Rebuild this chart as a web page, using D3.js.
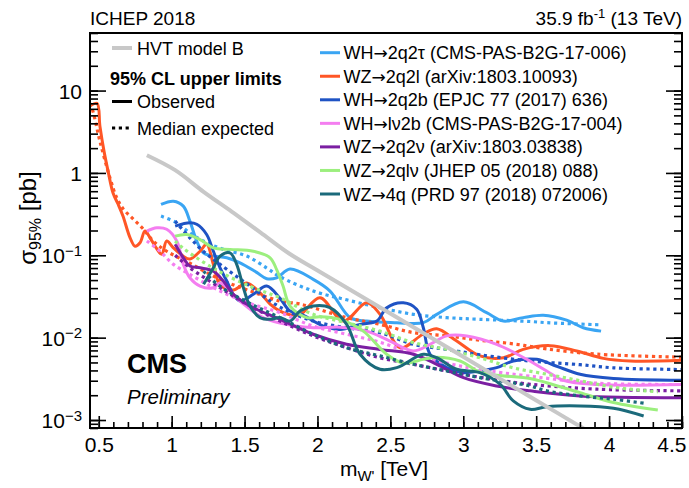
<!DOCTYPE html>
<html>
<head>
<meta charset="utf-8">
<script src="https://cdn.jsdelivr.net/npm/d3@7"></script>
<style>
  body { margin: 0; background: #fff; }
  svg { display: block; }
  text { font-family: "Liberation Sans", Arial, Helvetica, sans-serif; fill: #000; }
</style>
</head>
<body>
<svg id="chart" width="689" height="488"></svg>
<script>
// ---- data: [W' mass (TeV), 95% CL upper limit (pb)] ----
const massTicks = [0.5, 1, 1.5, 2, 2.5, 3, 3.5, 4, 4.5];
const sigmaMajor = [1e-3, 1e-2, 1e-1, 1, 10];

const hvtModelB = [[0.83,1.64],[1.024,1.08],[1.219,0.59],[1.414,0.337],[1.608,0.19],[1.803,0.106],[1.998,0.066],[2.485,0.0204],[2.971,0.0063],[3.458,0.00192],[3.945,0.00059]];

const wh2q2tauObs = [[0.927,0.415],[1.012,0.454],[1.08,0.395],[1.125,0.26],[1.172,0.149],[1.217,0.107],[1.286,0.0978],[1.378,0.0933],[1.469,0.0811],[1.583,0.062],[1.652,0.052],[1.72,0.0533],[1.812,0.068],[1.971,0.051],[2.086,0.0368],[2.224,0.0175],[2.338,0.0159],[2.544,0.0152],[2.726,0.0152],[2.818,0.0192],[3.001,0.0272],[3.16,0.0201],[3.275,0.0159],[3.411,0.0175],[3.549,0.0187],[3.709,0.0163],[3.823,0.0132],[3.945,0.012]];
const wh2q2tauExp = [[0.927,0.299],[1.035,0.248],[1.125,0.187],[1.217,0.149],[1.354,0.118],[1.515,0.0978],[1.652,0.07],[1.743,0.055],[1.971,0.0368],[2.2,0.0288],[2.429,0.0231],[2.658,0.0192],[2.887,0.0175],[3.114,0.0167],[3.458,0.0157],[3.572,0.0152],[3.945,0.0143]];

const wz2q2lObs = [[0.44,6.5],[0.488,7.0],[0.508,3.7],[0.536,1.84],[0.564,1.05],[0.598,0.57],[0.632,0.42],[0.666,0.30],[0.715,0.163],[0.749,0.129],[0.783,0.142],[0.817,0.197],[0.852,0.163],[0.898,0.12],[0.932,0.103],[0.966,0.149],[1.012,0.123],[1.078,0.098],[1.125,0.09],[1.195,0.112],[1.24,0.136],[1.286,0.078],[1.332,0.044],[1.423,0.038],[1.515,0.046],[1.606,0.035],[1.675,0.0256],[1.743,0.021],[1.812,0.019],[1.88,0.019],[2.017,0.0305],[2.177,0.0159],[2.338,0.0265],[2.429,0.0192],[2.566,0.00755],[2.723,0.011],[2.818,0.0128],[2.955,0.0091],[3.114,0.006],[3.275,0.0057],[3.411,0.0072],[3.595,0.008],[3.778,0.0069],[3.961,0.0056],[4.144,0.0052],[4.5,0.0053]];
const wz2q2lExp = [[0.44,7.0],[0.46,5.6],[0.508,2.43],[0.577,0.87],[0.623,0.50],[0.669,0.363],[0.737,0.275],[0.806,0.208],[0.874,0.149],[0.966,0.112],[1.125,0.08],[1.332,0.051],[1.537,0.037],[1.743,0.0278],[1.88,0.0256],[2.2,0.0175],[2.429,0.0145],[2.658,0.0115],[2.887,0.0105],[3.114,0.0093],[3.343,0.0084],[3.572,0.0073],[3.916,0.0063],[4.5,0.0058]];

const wh2q2bObs = [[1.024,0.226],[1.125,0.248],[1.172,0.238],[1.24,0.179],[1.286,0.112],[1.332,0.0705],[1.378,0.0487],[1.423,0.0336],[1.469,0.0278],[1.56,0.0336],[1.652,0.0423],[1.743,0.03],[1.812,0.021],[1.88,0.0195],[2.041,0.0138],[2.155,0.0126],[2.292,0.0145],[2.407,0.0159],[2.475,0.0231],[2.589,0.0265],[2.68,0.0221],[2.726,0.0132],[2.772,0.00628],[2.887,0.00432],[3.001,0.00376],[3.114,0.00394],[3.229,0.00432],[3.343,0.00521],[3.504,0.00546],[3.641,0.0045],[3.801,0.00359],[4.03,0.0032],[4.5,0.00304]];
const wh2q2bExp = [[1.024,0.26],[1.125,0.163],[1.217,0.112],[1.332,0.0776],[1.537,0.0423],[1.743,0.0235],[1.971,0.0159],[2.2,0.0132],[2.429,0.0115],[2.658,0.0083],[2.887,0.0072],[3.114,0.0062],[3.458,0.0052],[3.801,0.0047],[4.03,0.0043],[4.5,0.0041]];

const whlv2bObs = [[0.83,0.197],[0.898,0.216],[0.966,0.207],[1.035,0.149],[1.08,0.0776],[1.125,0.0533],[1.195,0.0423],[1.286,0.0404],[1.332,0.046],[1.469,0.0278],[1.606,0.0183],[1.743,0.015],[1.971,0.0132],[2.155,0.0134],[2.338,0.012],[2.497,0.0091],[2.658,0.0069],[2.772,0.0083],[2.887,0.0105],[3.024,0.0105],[3.229,0.0083],[3.435,0.00546],[3.572,0.00394],[3.686,0.00304],[3.916,0.0027],[4.5,0.0027]];
const whlv2bExp = [[0.83,0.149],[0.92,0.112],[1.012,0.0776],[1.125,0.0586],[1.332,0.0368],[1.537,0.026],[1.743,0.0201],[1.971,0.0138],[2.2,0.011],[2.429,0.0088],[2.658,0.0063],[2.887,0.0049],[3.114,0.0041],[3.458,0.0034],[3.916,0.0028],[4.5,0.0027]];

const wz2q2nuObs = [[1.024,0.136],[1.08,0.0933],[1.125,0.074],[1.195,0.0705],[1.286,0.0643],[1.354,0.0487],[1.423,0.0336],[1.537,0.0242],[1.743,0.0167],[1.971,0.011],[2.2,0.0083],[2.429,0.0072],[2.658,0.0063],[2.818,0.00475],[3.001,0.00327],[3.229,0.00259],[3.458,0.00226],[3.801,0.00196],[4.5,0.00187]];
const wz2q2nuExp = [[1.024,0.1],[1.125,0.0705],[1.332,0.0404],[1.537,0.0242],[1.743,0.0159],[1.971,0.0105],[2.2,0.00755],[2.429,0.0057],[2.658,0.00475],[2.887,0.00394],[3.114,0.0033],[3.458,0.00272],[3.916,0.00237],[4.5,0.00226]];

const wz2qlvObs = [[1.024,0.171],[1.103,0.179],[1.195,0.155],[1.286,0.123],[1.4,0.118],[1.56,0.112],[1.675,0.0933],[1.72,0.067],[1.764,0.0423],[1.812,0.0242],[1.927,0.0175],[2.017,0.018],[2.155,0.0167],[2.314,0.012],[2.475,0.00628],[2.589,0.0049],[2.726,0.00546],[2.818,0.0058],[2.978,0.00521],[3.114,0.0038],[3.229,0.0035],[3.458,0.0032],[3.572,0.00284],[3.801,0.00215],[4.03,0.00163],[4.334,0.00132]];
const wz2qlvExp = [[1.024,0.149],[1.078,0.122],[1.284,0.07],[1.537,0.042],[1.743,0.0305],[1.971,0.0192],[2.2,0.0152],[2.429,0.012],[2.658,0.0087],[2.887,0.0072],[3.114,0.0057],[3.343,0.0043],[3.572,0.0036],[3.801,0.003],[4.03,0.0025],[4.334,0.0022]];

const wz4qObs = [[1.219,0.0444],[1.286,0.0705],[1.332,0.0978],[1.4,0.107],[1.446,0.0776],[1.492,0.0404],[1.537,0.0242],[1.606,0.0175],[1.675,0.0167],[1.743,0.0175],[1.812,0.0159],[1.88,0.021],[1.971,0.0242],[2.086,0.0231],[2.2,0.0145],[2.292,0.00628],[2.429,0.00413],[2.544,0.00432],[2.726,0.00628],[2.818,0.0057],[2.955,0.00413],[3.114,0.00376],[3.252,0.00272],[3.343,0.00171],[3.458,0.00135],[3.572,0.00145],[3.801,0.00148],[4.03,0.00139],[4.237,0.00112]];
const wz4qExp = [[1.219,0.064],[1.332,0.042],[1.537,0.026],[1.743,0.0175],[1.971,0.011],[2.2,0.00755],[2.429,0.006],[2.658,0.00475],[2.887,0.00394],[3.114,0.00327],[3.458,0.00259],[3.572,0.00226],[3.801,0.00196],[4.03,0.00179],[4.237,0.0016]];

const channelLabels = [
  "WH\u21922q2\u03c4 (CMS-PAS-B2G-17-006)",
  "WZ\u21922q2l (arXiv:1803.10093)",
  "WH\u21922q2b (EPJC 77 (2017) 636)",
  "WH\u2192l\u03bd2b (CMS-PAS-B2G-17-004)",
  "WZ\u21922q2\u03bd (arXiv:1803.03838)",
  "WZ\u21922ql\u03bd (JHEP 05 (2018) 088)",
  "WZ\u21924q (PRD 97 (2018) 072006)"
];
const channelColors = ["#3aa5f3", "#ff5626", "#1f53c4", "#f47ef0", "#7b1fa2", "#9cef7e", "#1b6a7b"];
const observed = [wh2q2tauObs, wz2q2lObs, wh2q2bObs, whlv2bObs, wz2q2nuObs, wz2qlvObs, wz4qObs];
const expected = [wh2q2tauExp, wz2q2lExp, wh2q2bExp, whlv2bExp, wz2q2nuExp, wz2qlvExp, wz4qExp];

// ---- layout ----
const frame = { left: 90, right: 682, top: 33, bottom: 428 };
const svg = d3.select("#chart");
const font = '"Liberation Sans", Arial, Helvetica, sans-serif';

const x = d3.scaleLinear().domain([0.44, 4.5]).range([frame.left, frame.right]);
const y = d3.scaleLog().domain([0.0008, 50]).range([frame.bottom, frame.top]);

svg.append("defs").append("clipPath").attr("id", "plotArea")
  .append("rect")
  .attr("x", frame.left).attr("y", frame.top)
  .attr("width", frame.right - frame.left).attr("height", frame.bottom - frame.top);

const line = d3.line()
  .x(d => x(d[0]))
  .y(d => y(d[1]))
  .curve(d3.curveCatmullRom.alpha(0.5));

// ---- limit curves ----
const curves = svg.append("g").attr("clip-path", "url(#plotArea)");
observed.forEach((series, i) => {
  curves.append("path")
    .attr("d", line(expected[i]))
    .attr("fill", "none")
    .attr("stroke", channelColors[i])
    .attr("stroke-width", 3.2)
    .attr("stroke-dasharray", "3.2 3.6");
  curves.append("path")
    .attr("d", line(series))
    .attr("fill", "none")
    .attr("stroke", channelColors[i])
    .attr("stroke-width", 3);
});
curves.append("path")
  .attr("d", line(hvtModelB))
  .attr("fill", "none")
  .attr("stroke", "#c8c8c8")
  .attr("stroke-width", 4);

// ---- axes ----
function tidy(g) {
  g.select(".domain").remove();
  g.selectAll(".tick line").attr("stroke", "#000").attr("stroke-width", 1.6);
}

const minorMass = d3.range(5, 46).map(i => i / 10);
svg.append("g").attr("transform", `translate(0,${frame.bottom})`)
  .call(d3.axisBottom(x).tickValues(minorMass).tickSize(-6).tickFormat(""))
  .call(tidy);
const xMajor = svg.append("g").attr("transform", `translate(0,${frame.bottom})`)
  .call(d3.axisBottom(x).tickValues(massTicks).tickSize(-12).tickPadding(9).tickFormat(d3.format("")))
  .call(tidy);
xMajor.selectAll("text")
  .attr("font-family", font).attr("font-size", 21).attr("fill", "#000");
// keep the last label inside the canvas
xMajor.selectAll(".tick").filter(d => d === massTicks[massTicks.length - 1])
  .select("text").attr("text-anchor", "end").attr("x", 4);

svg.append("g").attr("transform", `translate(${frame.left},0)`)
  .call(d3.axisLeft(y).tickValues(y.ticks()).tickSize(-8).tickFormat(""))
  .call(tidy);
const yMajor = svg.append("g").attr("transform", `translate(${frame.left},0)`)
  .call(d3.axisLeft(y).tickValues(sigmaMajor).tickSize(-16).tickFormat(""))
  .call(tidy);
svg.append("g").attr("transform", `translate(${frame.right},0)`)
  .call(d3.axisRight(y).tickValues(y.ticks()).tickSize(-8).tickFormat(""))
  .call(tidy);
svg.append("g").attr("transform", `translate(${frame.right},0)`)
  .call(d3.axisRight(y).tickValues(sigmaMajor).tickSize(-16).tickFormat(""))
  .call(tidy);

yMajor.selectAll(".tick").each(function(v) {
  const t = d3.select(this).append("text")
    .attr("x", -8).attr("dy", "0.36em")
    .attr("text-anchor", "end")
    .attr("font-family", font).attr("font-size", 21).attr("fill", "#000");
  if (v >= 1) {
    t.text(String(v));
  } else {
    const k = Math.round(Math.log10(v));
    t.append("tspan").text("10");
    t.append("tspan").attr("dy", "-0.5em").attr("font-size", 15).text("\u2212" + (-k));
  }
});

svg.append("rect")
  .attr("x", frame.left).attr("y", frame.top)
  .attr("width", frame.right - frame.left).attr("height", frame.bottom - frame.top)
  .attr("fill", "none").attr("stroke", "#000").attr("stroke-width", 2);

// ---- axis titles ----
const xTitle = svg.append("text")
  .attr("x", 384).attr("y", 476)
  .attr("text-anchor", "middle").attr("font-size", 21);
xTitle.append("tspan").text("m");
xTitle.append("tspan").attr("dy", 5).attr("font-size", 15).text("W'");
xTitle.append("tspan").attr("dy", -5).text(" [TeV]");

const yTitle = svg.append("text")
  .attr("transform", "translate(36,218) rotate(-90)")
  .attr("text-anchor", "middle").attr("font-size", 24);
yTitle.append("tspan").text("\u03c3");
yTitle.append("tspan").attr("dy", 5).attr("font-size", 16).text("95%");
yTitle.append("tspan").attr("dy", -5).text(" [pb]");

// ---- header ----
svg.append("text").attr("x", frame.left).attr("y", 25).attr("font-size", 19).text("ICHEP 2018");
const lumi = svg.append("text").attr("x", frame.right).attr("y", 25)
  .attr("text-anchor", "end").attr("font-size", 19);
lumi.append("tspan").text("35.9 fb");
lumi.append("tspan").attr("dy", -7).attr("font-size", 13).text("-1");
lumi.append("tspan").attr("dy", 7).text(" (13 TeV)");

svg.append("text").attr("x", 127).attr("y", 373)
  .attr("font-size", 27).attr("font-weight", "bold").text("CMS");
svg.append("text").attr("x", 127).attr("y", 404)
  .attr("font-size", 20.5).attr("font-style", "italic").text("Preliminary");

// ---- legends ----
const legL = svg.append("g");
legL.append("line").attr("x1", 112).attr("x2", 132).attr("y1", 48).attr("y2", 48)
  .attr("stroke", "#c8c8c8").attr("stroke-width", 4);
legL.append("text").attr("x", 137).attr("y", 54.5).attr("font-size", 18).text("HVT model B");
legL.append("text").attr("x", 110).attr("y", 84.5).attr("font-size", 18)
  .attr("font-weight", "bold").text("95% CL upper limits");
legL.append("line").attr("x1", 112).attr("x2", 132).attr("y1", 101.5).attr("y2", 101.5)
  .attr("stroke", "#000").attr("stroke-width", 3);
legL.append("text").attr("x", 137).attr("y", 108).attr("font-size", 18).text("Observed");
legL.append("line").attr("x1", 112).attr("x2", 132).attr("y1", 128).attr("y2", 128)
  .attr("stroke", "#000").attr("stroke-width", 3).attr("stroke-dasharray", "3.2 3.6");
legL.append("text").attr("x", 137).attr("y", 134.5).attr("font-size", 18).text("Median expected");

const legR = svg.append("g");
channelLabels.forEach((label, i) => {
  const cy = 52.7 + i * 23.55;
  legR.append("line").attr("x1", 320).attr("x2", 340).attr("y1", cy).attr("y2", cy)
    .attr("stroke", channelColors[i]).attr("stroke-width", 3);
  const t = legR.append("text").attr("x", 343.5).attr("y", cy + 6.5).attr("font-size", 18);
  const [head, tail] = label.split("\u2192");
  t.append("tspan").text(head);
  t.append("tspan").attr("font-family", '"DejaVu Sans", sans-serif').attr("font-size", 17).text("\u2192");
  t.append("tspan").text(tail);
});
</script>
</body>
</html>
